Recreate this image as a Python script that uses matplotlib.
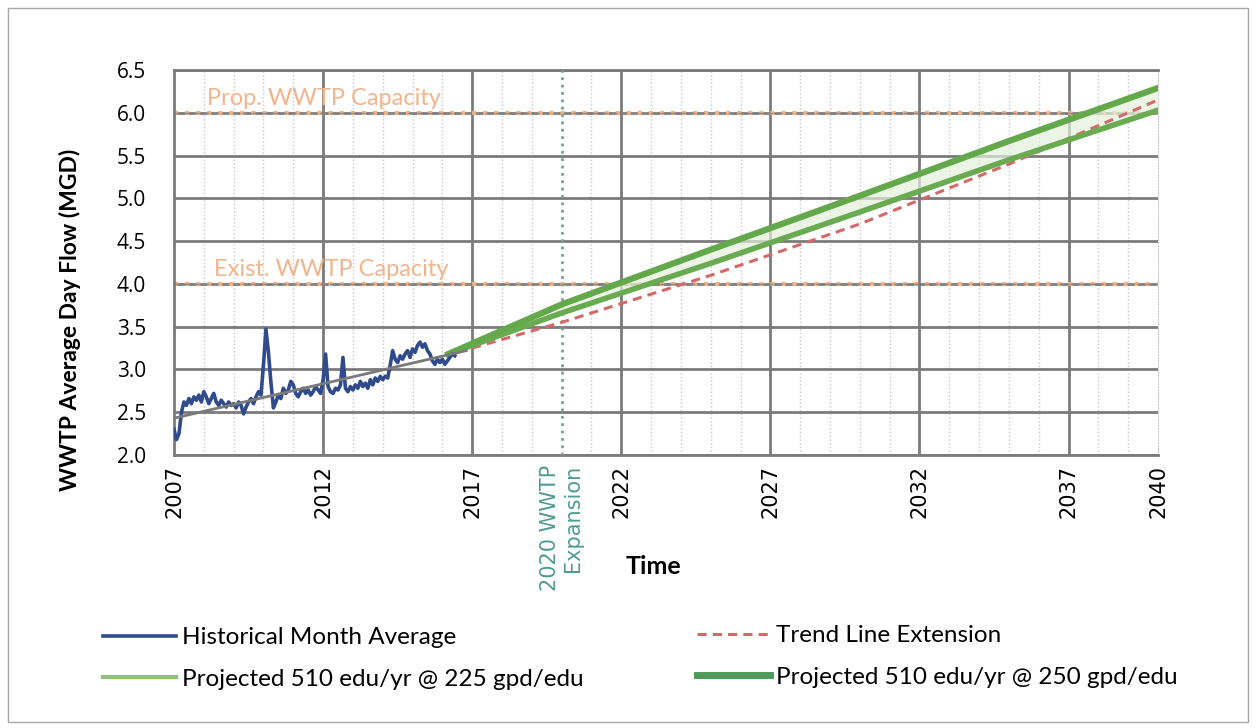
import numpy as np
import matplotlib.pyplot as plt
from matplotlib.patches import Rectangle

# ---- data ----
# historical monthly average flow (MGD), Jan 2007 onwards
hist_flow = [
    2.30, 2.18, 2.25, 2.50, 2.62, 2.58, 2.66, 2.60, 2.68, 2.64, 2.70, 2.62,  # 2007
    2.74, 2.68, 2.60, 2.66, 2.72, 2.62, 2.58, 2.64, 2.60, 2.56, 2.62, 2.58,  # 2008
    2.60, 2.55, 2.62, 2.58, 2.48, 2.56, 2.62, 2.66, 2.60, 2.68, 2.74, 2.70,  # 2009
    3.05, 3.47, 3.20, 2.85, 2.55, 2.62, 2.70, 2.66, 2.78, 2.72, 2.76, 2.86,  # 2010
    2.82, 2.72, 2.68, 2.74, 2.78, 2.72, 2.76, 2.70, 2.74, 2.80, 2.76, 2.72,  # 2011
    2.88, 3.18, 2.80, 2.74, 2.72, 2.78, 2.76, 2.82, 3.14, 2.78, 2.74, 2.80,  # 2012
    2.76, 2.82, 2.78, 2.86, 2.80, 2.84, 2.78, 2.88, 2.82, 2.90, 2.86, 2.92,  # 2013
    2.88, 2.92, 2.90, 3.05, 3.22, 3.12, 3.08, 3.16, 3.12, 3.18, 3.22, 3.14,  # 2014
    3.24, 3.20, 3.28, 3.32, 3.26, 3.30, 3.22, 3.18, 3.10, 3.06, 3.12, 3.08,  # 2015
    3.12, 3.06, 3.10, 3.14, 3.18, 3.16,                                      # 2016
]
hist_years = 2007.0 + np.arange(len(hist_flow)) / 12.0

trend_years = [2007.0, 2016.8]
trend_flow = [2.43, 3.22]

ext_years = [2016.5, 2020, 2025, 2030, 2035, 2040]
ext_flow = [3.20, 3.55, 4.10, 4.70, 5.40, 6.15]

proj_years = [2016.2, 2020, 2025, 2030, 2035, 2040]
proj_225 = [3.18, 3.66, 4.24, 4.84, 5.45, 6.03]
proj_250 = [3.18, 3.76, 4.40, 5.03, 5.67, 6.29]

cap_levels = [6.0, 4.0]
cap_labels = ['Prop. WWTP Capacity', 'Exist. WWTP Capacity']

expansion_year = 2020
year_labels = [2007, 2012, 2017, 2022, 2027, 2032, 2037, 2040]
grid_years = [2012, 2017, 2022, 2027, 2032, 2037]

W, H = 1256, 728
fig = plt.figure(figsize=(W / 100, H / 100), dpi=100)
ax = fig.add_axes([174 / W, 1 - 455 / H, (1158 - 174) / W, (455 - 70) / H])

grid_col = '#7b7b7b'
# minor yearly dotted gridlines
ax.set_xticks(np.arange(2007, 2041), minor=True)
ax.grid(which='minor', axis='x', color='#c8c8c8', linestyle=':', linewidth=1)
for gy in grid_years:
    ax.axvline(gy, color=grid_col, linewidth=2, zorder=1)
ax.set_yticks(np.arange(2.0, 6.51, 0.5))
ax.grid(which='major', axis='y', color=grid_col, linewidth=2, zorder=1)

# capacity lines
for lvl, lab, tx in zip(cap_levels, cap_labels, [2008.1, 2008.35]):
    ax.axhline(lvl, color='#f4b183', linewidth=3, linestyle=':', zorder=2)
    ax.axhline(lvl, color='#8a8a8a', linewidth=1, linestyle=(0, (4, 3)), zorder=2)
    ax.text(tx, lvl + 0.04, lab, color='#f2b48a', fontsize=17, family='Lato',
            ha='left', va='bottom', zorder=3)

# expansion marker
ax.axvline(expansion_year, color='#6aa98e', linewidth=2, linestyle=':', zorder=3)

# series
ax.fill_between(proj_years, proj_225, proj_250, color='#e4f0dc', alpha=0.7, zorder=3, linewidth=0)
l_hist, = ax.plot(hist_years, hist_flow, color='#2f4b8c', linewidth=2.6, zorder=5,
                  label='Historical Month Average')
ax.plot(trend_years, trend_flow, color='#7a7a7a', linewidth=2, zorder=6)
l_ext, = ax.plot(ext_years, ext_flow, color='#d26a6a', linewidth=2.2, linestyle=(0, (3, 2)),
                 zorder=4, label='Trend Line Extension')
l_225, = ax.plot(proj_years, proj_225, color='#6aab52', linewidth=4, zorder=4,
                 label='Projected 510 edu/yr @ 225 gpd/edu')
l_250, = ax.plot(proj_years, proj_250, color='#64a84c', linewidth=4.5, zorder=4,
                 label='Projected 510 edu/yr @ 250 gpd/edu')

ax.set_xlim(2007, 2040)
ax.set_ylim(2.0, 6.5)

# ticks
ticks = sorted(year_labels + [expansion_year])
labels = [str(t) if t != expansion_year else '2020 WWTP\nExpansion' for t in ticks]
ax.set_xticks(ticks)
ax.set_xticklabels(labels, rotation=90, fontsize=15, family='DejaVu Sans',
                   va='top', ha='center')
for t, lab in zip(ticks, ax.get_xticklabels()):
    if t == expansion_year:
        lab.set_color('#4f9c95')
        lab.set_multialignment('right')
ax.set_yticklabels([f'{v:.1f}' for v in np.arange(2.0, 6.51, 0.5)], fontsize=15, family='Open Sans')
ax.tick_params(axis='both', which='both', length=0)
ax.tick_params(axis='y', pad=20)
ax.tick_params(axis='x', pad=7)

for side in ['left', 'bottom', 'top']:
    ax.spines[side].set_color(grid_col)
    ax.spines[side].set_linewidth(2)
ax.spines['right'].set_color('#c8c8c8')
ax.spines['right'].set_linestyle(':')

fig.text(70 / W, 1 - 320 / H, 'WWTP Average Day Flow (MGD)', rotation=90,
         ha='center', va='center', fontsize=16.5, fontweight='bold', family='Lato')
fig.text(653 / W, 1 - 567 / H, 'Time', ha='center', va='center',
         fontsize=18, fontweight='bold', family='Lato')

leg_kw = dict(loc='upper left', frameon=False, borderpad=0, borderaxespad=0,
              handlelength=3.0, handletextpad=0.25, labelspacing=0.85,
              prop={'family': 'Lato', 'size': 17.5})
h_225 = plt.Line2D([], [], color='#8fbf7a', linewidth=3)
h_250 = plt.Line2D([], [], color='#4f9a5a', linewidth=5)
fig.legend([l_hist, h_225], [l_hist.get_label(), l_225.get_label()],
           bbox_to_anchor=(103 / W, 1 - 627 / H), **leg_kw)
fig.legend([l_ext, h_250], [l_ext.get_label(), l_250.get_label()],
           bbox_to_anchor=(697 / W, 1 - 625 / H), **leg_kw)

fig.patches.append(Rectangle((8 / W, 6 / H), 1240 / W, 714 / H, transform=fig.transFigure,
                             fill=False, edgecolor='#a8a8a8', linewidth=1))

fig.savefig('out.png', dpi=100)
